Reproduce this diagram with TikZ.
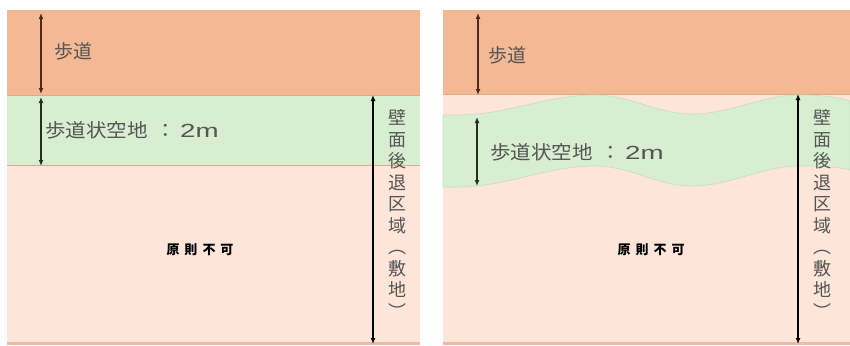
\documentclass[tikz,border=0pt]{standalone}
\usepackage{fontspec}
\usepackage{graphicx}
\newfontfamily\jp{Noto Sans CJK JP}
\newfontfamily\lat{Liberation Sans}
\usetikzlibrary{arrows.meta}
\definecolor{peach}{HTML}{FDE5D9}
\definecolor{orng}{HTML}{F3B994}
\definecolor{grn}{HTML}{D8EED1}
\definecolor{edgeo}{HTML}{E0AA8A}
\definecolor{edgeg}{HTML}{C8DDBE}
\definecolor{botline}{HTML}{E6BCA4}
\definecolor{brownar}{HTML}{4A2A1C}
\definecolor{greenar}{HTML}{1E321E}
\definecolor{txt}{HTML}{555555}
\tikzset{
  dimarrow/.style={line width=1.5pt,{Latex[length=6pt,width=5pt]}-{Latex[length=6pt,width=5pt]}},
  lbl/.style={text=txt,font=\jp\fontsize{19}{19}\selectfont,inner sep=0pt,anchor=west},
  vlbl/.style={text=txt,font=\jp\fontsize{18}{21.5}\selectfont,align=center,inner sep=0pt},
  banlbl/.style={text=black,font=\jp\bfseries\fontsize{13}{13}\selectfont,inner sep=0pt}
}
\newcommand{\akuchi}{\scalebox{1.08}[1]{歩道状空地\hspace{7pt}：\hspace{4pt}\scalebox{1.35}[1]{\lat\fontsize{19}{19}\selectfont 2m}}}
\begin{document}
\begin{tikzpicture}[x=1pt,y=-1pt]
\useasboundingbox (0,0) rectangle (850,345);
% ---------- left panel ----------
\fill[peach] (7,10) rectangle (420,345);
\fill[orng] (7,10) rectangle (420,95);
\fill[grn] (7,95) rectangle (420,165);
\draw[edgeo,line width=1pt] (7,95) -- (420,95);
\draw[edgeo,line width=1pt] (7,165) -- (420,165);
\fill[botline] (7,342) rectangle (420,345);
\coordinate (L1t) at (41,13);
\coordinate (L1b) at (41,94);
\coordinate (L2t) at (41,97);
\coordinate (L2b) at (41,166);
\coordinate (L3t) at (373,95);
\coordinate (L3b) at (373,344);
\draw[dimarrow,brownar] (L1t) -- (L1b);
\draw[dimarrow,greenar] (L2t) -- (L2b);
\draw[dimarrow,black] (L3t) -- (L3b);
\node[lbl] (Lt1) at (54,51) {歩道};
\node[lbl] (Lt2) at (45,130) {\akuchi};
\node[vlbl] (Lv) at (397,214) {壁\\面\\後\\退\\区\\域\\︵\\敷\\地\\︶};
\node[banlbl] (Lb) at (200,250) {原\hspace{5pt}則\hspace{5pt}不\hspace{5pt}可};
% ---------- right panel ----------
\fill[peach] (443,10) rectangle (850,345);
\fill[orng] (443,10) rectangle (850,94);
\draw[edgeo,line width=1pt] (443,94) -- (850,94);
\fill[grn,draw=edgeg,line width=0.6pt]
  (443,115) -- (458,115) .. controls (507,115) and (546,95) .. (595,95)
  .. controls (630,95) and (657,114) .. (692,114)
  .. controls (731,114) and (761,95) .. (800,95)
  .. controls (820,95) and (838,97) .. (850,101)
  -- (850,170)
  .. controls (838,167) and (820,166) .. (800,166)
  .. controls (761,166) and (731,186) .. (692,186)
  .. controls (657,186) and (630,166) .. (595,166)
  .. controls (546,166) and (507,187) .. (458,187)
  -- (443,187) -- cycle;
\fill[botline] (443,342) rectangle (850,345);
\coordinate (R1t) at (478,13);
\coordinate (R1b) at (478,95);
\coordinate (R2t) at (477,117);
\coordinate (R2b) at (477,186);
\coordinate (R3t) at (798,94);
\coordinate (R3b) at (798,344);
\draw[dimarrow,brownar] (R1t) -- (R1b);
\draw[dimarrow,greenar] (R2t) -- (R2b);
\draw[dimarrow,black] (R3t) -- (R3b);
\node[lbl] (Rt1) at (488,55) {歩道};
\node[lbl] (Rt2) at (490,152) {\akuchi};
\node[vlbl] (Rv) at (822,214) {壁\\面\\後\\退\\区\\域\\︵\\敷\\地\\︶};
\node[banlbl] (Rb) at (651,250) {原\hspace{5pt}則\hspace{5pt}不\hspace{5pt}可};
\end{tikzpicture}
\end{document}
